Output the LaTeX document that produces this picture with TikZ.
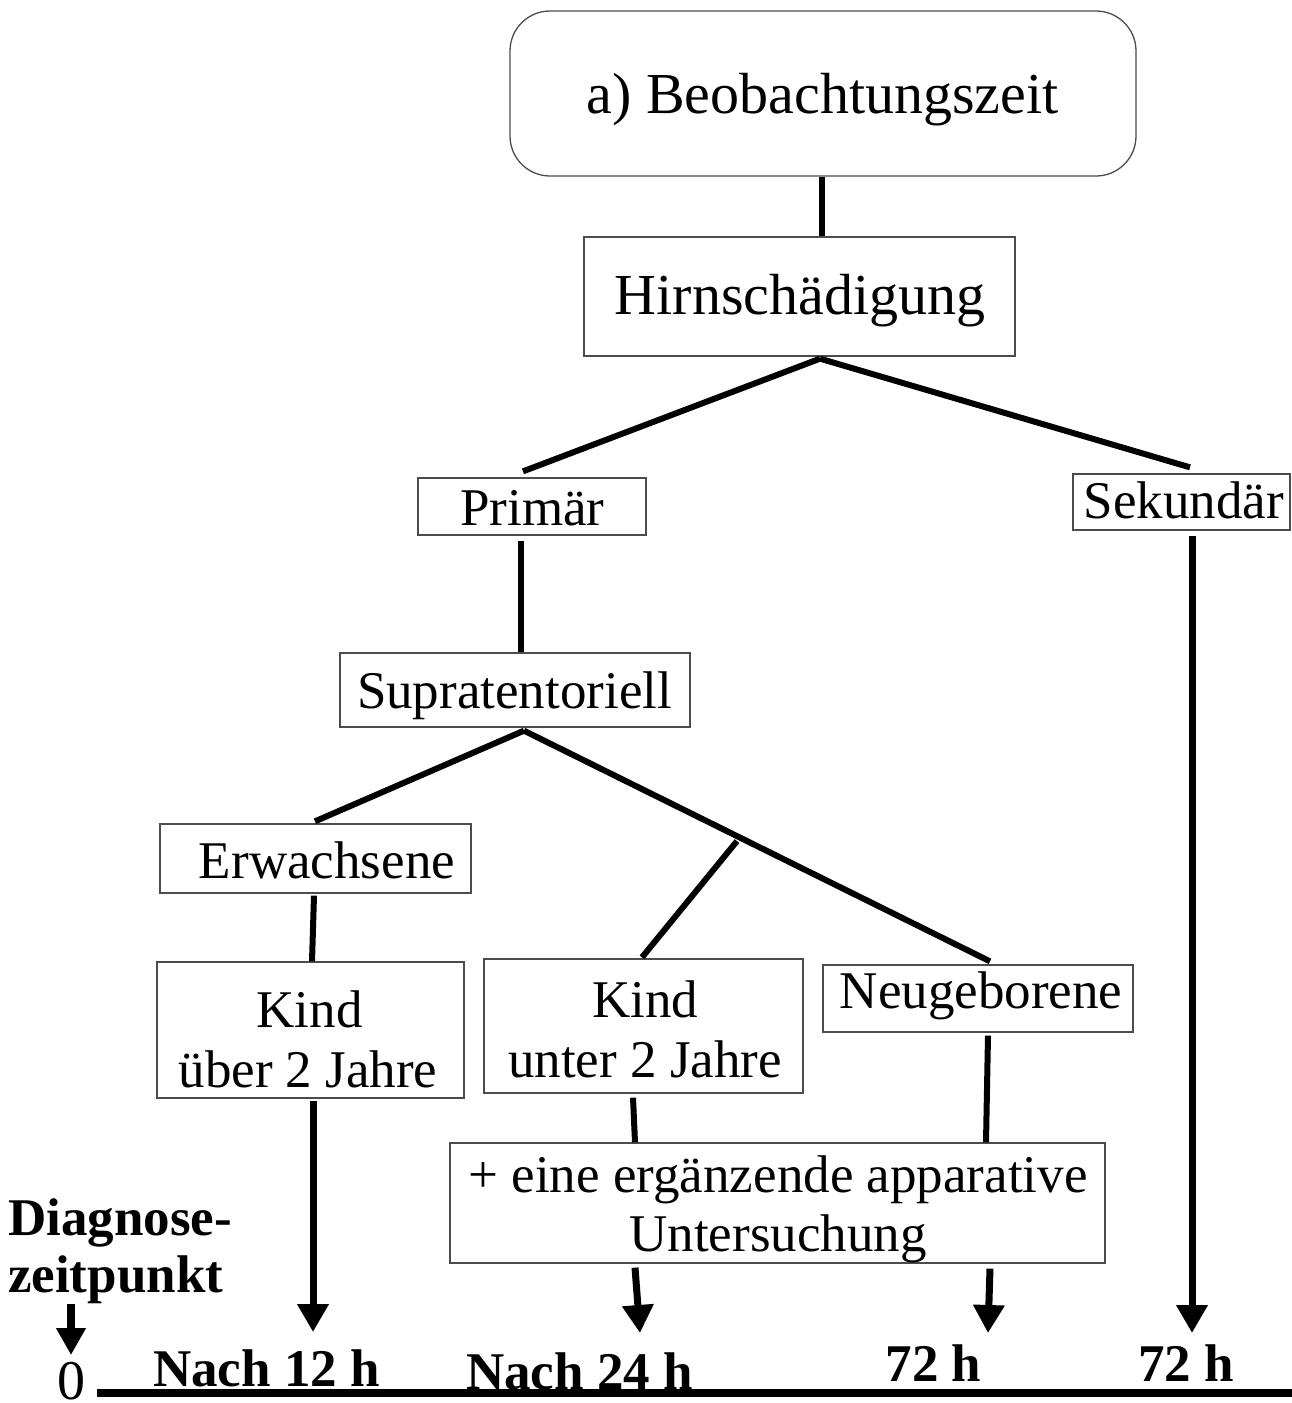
\documentclass[tikz,border=0pt]{standalone}
\usepackage{fontspec}
\setmainfont{Liberation Serif}
\usetikzlibrary{arrows.meta,calc}
\begin{document}
\begin{tikzpicture}[x=1pt,y=-1pt,
  box/.style={draw=black!70,line width=1.3pt,inner sep=0pt,rectangle},
  big/.style={font=\fontsize{58}{60}\selectfont,inner sep=0pt,anchor=base},
  med/.style={font=\fontsize{53}{60}\selectfont,inner sep=0pt,anchor=base},
  lbl/.style={font=\fontsize{53}{60}\selectfont\bfseries,inner sep=0pt,anchor=base},
  conn/.style={line width=6pt},
  arr/.style={line width=7pt,-{Triangle[width=30pt,length=28pt]}},
  arrS/.style={line width=8pt,-{Triangle[width=28pt,length=27pt]}}]
\useasboundingbox (0,0) rectangle (1292,1403);

% boxes
\node[box,rounded corners=40pt,minimum width=626pt,minimum height=165pt] (top) at (823,93.5) {};
\node[box,minimum width=431pt,minimum height=119pt] (hirn) at (799.5,296.5) {};
\node[box,minimum width=228pt,minimum height=57pt] (prim) at (532,506.5) {};
\node[box,minimum width=217pt,minimum height=56pt] (sek) at (1181.5,502) {};
\node[box,minimum width=350pt,minimum height=74pt] (supra) at (515,690) {};
\node[box,minimum width=311pt,minimum height=69pt] (erw) at (315.5,858.5) {};
\node[box,minimum width=307pt,minimum height=136pt] (kue) at (310.5,1030) {};
\node[box,minimum width=319pt,minimum height=134pt] (kun) at (643.5,1026) {};
\node[box,minimum width=310pt,minimum height=67pt] (neu) at (978,998.5) {};
\node[box,minimum width=655pt,minimum height=120pt] (unt) at (777.5,1203) {};

% texts
\node[big] (topT) at (822.5,113) {a) Beobachtungszeit};
\node[big] (hirnT) at (800,314) {Hirnschädigung};
\node[med] (primT) at (532.5,525) {Primär};
\node[med] (sekT) at (1184,518) {Sekundär};
\node[med] (supraT) at (514.5,708) {Supratentoriell};
\node[med] (erwT) at (327,878) {Erwachsene};
\node[med] (kueT1) at (309.5,1027) {Kind};
\node[med] (kueT2) at (308,1087) {über 2 Jahre};
\node[med] (kunT1) at (645,1017) {Kind};
\node[med] (kunT2) at (645,1077) {unter 2 Jahre};
\node[med] (neuT) at (981,1008) {Neugeborene};
\node[med] (untT1) at (778,1192) {+ eine ergänzende apparative};
\node[med] (untT2) at (778,1251) {Untersuchung};

\node[lbl,anchor=base west] (diag) at (8,1235) {Diagnose-};
\node[lbl,anchor=base west] (zeit) at (8,1292) {zeitpunkt};
\node[font=\fontsize{56}{60}\selectfont,inner sep=0pt,anchor=base] (zero) at (71,1399.5) {0};
\node[lbl] (n12) at (266.5,1386) {Nach 12 h};
\node[lbl] (n24) at (579.5,1389) {Nach 24 h};
\node[lbl] (h72a) at (933.5,1381) {72 h};
\node[lbl] (h72b) at (1186,1381) {72 h};

% connectors
\draw[conn] ($(top.south)+(-1,0)$) -- ($(hirn.north)+(22.5,0)$);
\coordinate (hj) at ($(hirn.south)+(20.5,2)$);
\draw[conn] (hj) -- ($(prim.north)+(-9,-6)$);
\draw[conn] (hj) -- ($(sek.north)+(8.5,-6)$);
\draw[conn] ($(prim.south)+(-11,5)$) -- ($(supra.north)+(6,0)$);
\coordinate (sj) at ($(supra.south)+(9,3)$);
\coordinate (nj) at ($(neu.north)+(12,-3)$);
\draw[conn] (sj) -- ($(erw.north)+(-0.5,-2)$);
\draw[conn] (sj) -- (nj);
\coordinate (br) at ($(sj)!0.457!(nj)+(0,5)$);
\draw[conn] (br) -- ($(kun.north)+(-1.5,-1)$);
\draw[conn] ($(erw.south)+(-1.5,2)$) -- ($(kue.north)+(1.5,0)$);
\draw[conn] ($(kun.south)+(-10.5,4)$) -- ($(unt.north)+(-142.5,0)$);
\draw[conn] ($(neu.south)+(10,3)$) -- ($(unt.north)+(208.5,0)$);

% arrows
\coordinate (t12) at (313,1332);
\coordinate (t24) at (640,1333);
\coordinate (t72a) at (988,1333);
\coordinate (t72b) at (1192,1333);
\draw[arr] ($(kue.south)+(2.5,2)$) -- (t12);
\draw[arr] ($(unt.south)+(-142.5,4)$) -- (t24);
\draw[arr] ($(unt.south)+(212.5,5)$) -- (t72a);
\draw[arr] ($(sek.south)+(10.5,5)$) -- (t72b);
\draw[arrS] (zeit.south -| zero.north) -- ($(zero.north)+(0,-7)$);

% time axis
\coordinate (axL) at (97,1393);
\coordinate (axR) at (1292,1393);
\draw[line width=8pt] (axL) -- (axR);
\end{tikzpicture}
\end{document}
